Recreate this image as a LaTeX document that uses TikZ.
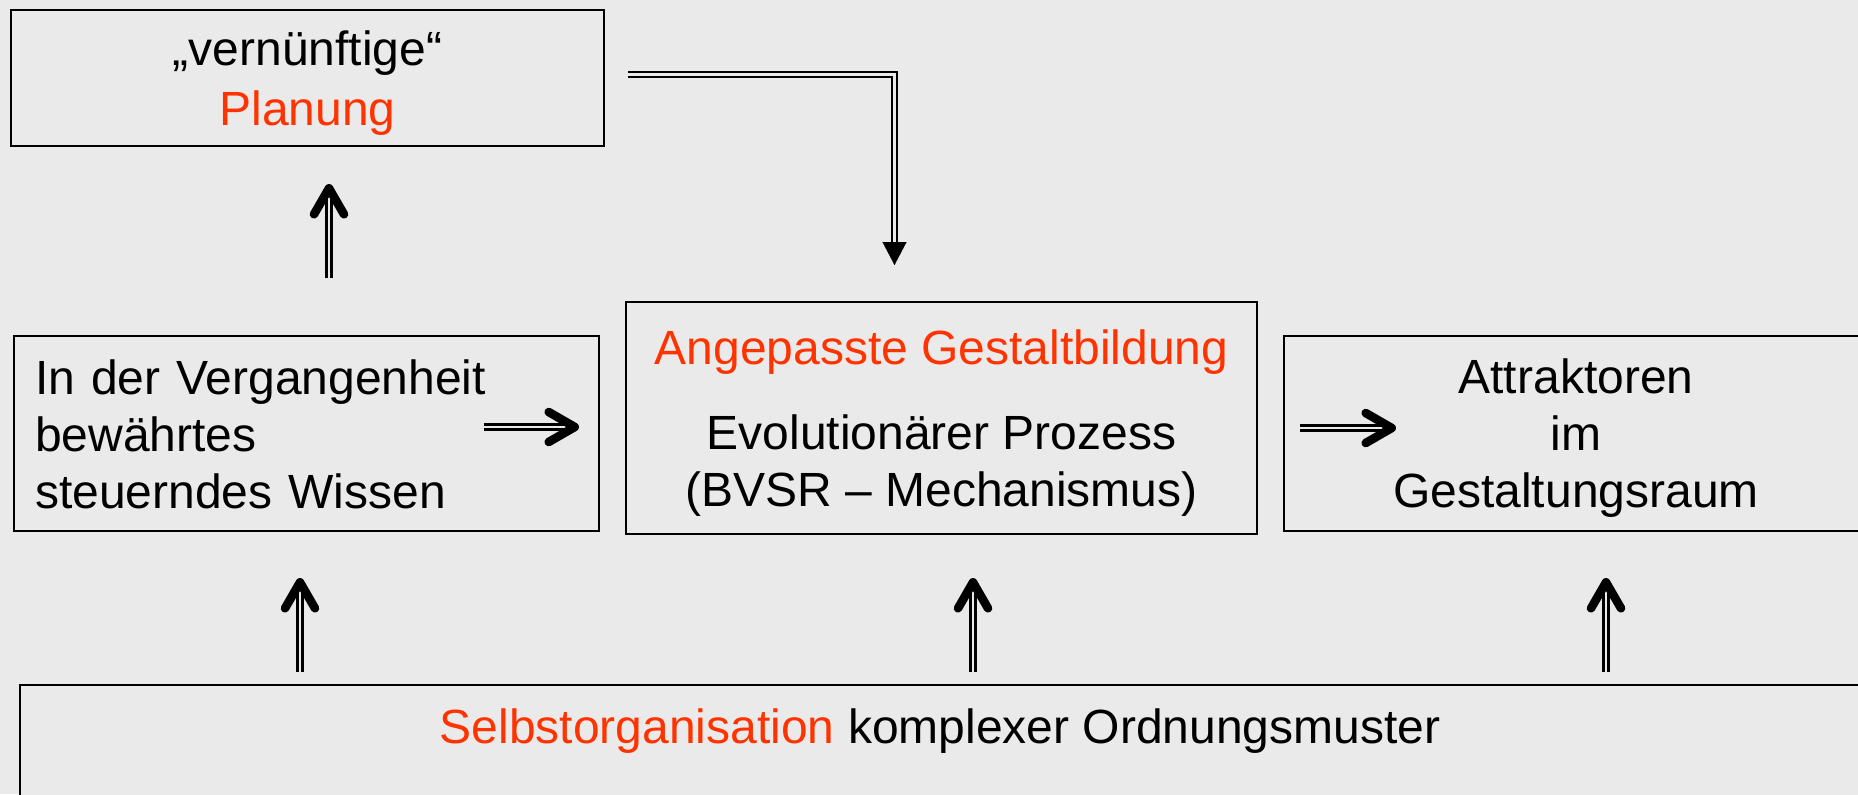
\documentclass[tikz,border=0pt]{standalone}
\usepackage{fontspec}
\setmainfont{Liberation Sans}
\usetikzlibrary{arrows.meta}
\definecolor{bgc}{RGB}{234,234,234}
\definecolor{hot}{RGB}{255,51,0}

\begin{document}
\begin{tikzpicture}[x=0.5pt,y=-0.5pt,font=\fontsize{24}{28.5}\selectfont,
	box/.style={draw=black,line width=1pt,fill=bgc,inner sep=0pt,outer sep=0pt,text depth=0pt},
	shaft/.style={draw=black,double=bgc,double distance=1.3pt,line width=1.25pt,shorten >=5pt},
	barb/.style={draw=bgc,line width=0.1pt,-{Straight Barb[color=black,length=13pt,width=15pt,line width=4.3pt,round]}},
	tri/.style={draw=bgc,line width=0.1pt,-{Triangle[color=black,length=11.5pt,width=12pt]}}]
	\fill [bgc] (0,0) rectangle (1858,794);
	\useasboundingbox (0,0) rectangle (1858,794);
	\node [box,minimum width=296.5pt,minimum height=68pt,align=center] at (307.5,78) (plan) {„vernünftige“\\[1.5pt]\textcolor{hot}{Planung}};
	\node [box,minimum width=292.5pt,minimum height=97.5pt,inner xsep=10.5pt,text width=271.5pt,text depth=56.5pt,align=left] at (306.5,433.5) (past) {In der Vergangenheit\\bewährtes\\steuerndes Wissen};
	\node [box,minimum width=315.5pt,minimum height=116pt,align=center] at (941.5,418) (evo) {\textcolor{hot}{Angepasste Gestaltbildung}\\[14pt]Evolutionärer Prozess\\(BVSR – Mechanismus)};
	\node [box,minimum width=292pt,minimum height=97.5pt,align=center] at (1576,433.5) (attr) {Attraktoren\\im\\Gestaltungsraum};
	\node [box,minimum width=920pt,inner ysep=11.5pt,text height=17.5pt,text depth=40pt,anchor=north] at (940,685) (selforg) {\textcolor{hot}{Selbstorganisation} komplexer Ordnungsmuster};
	\coordinate (up1s) at (329,278);
	\coordinate (up1e) at (329,184);
	\coordinate (up2s) at (300,672);
	\coordinate (up2e) at (300,578);
	\coordinate (up3s) at (973,672);
	\coordinate (up3e) at (973,578);
	\coordinate (up4s) at (1606,672);
	\coordinate (up4e) at (1606,578);
	\coordinate (rt1s) at (484,427);
	\coordinate (rt1e) at (579,427);
	\coordinate (rt2s) at (1300,428);
	\coordinate (rt2e) at (1396,428);
	\coordinate (dns) at (628,74.5);
	\coordinate (dne) at (894.5,265);
	\draw [shaft] (up1s) -- (up1e);
	\draw [barb] (up1s) -- (up1e);
	\draw [shaft] (up2s) -- (up2e);
	\draw [barb] (up2s) -- (up2e);
	\draw [shaft] (up3s) -- (up3e);
	\draw [barb] (up3s) -- (up3e);
	\draw [shaft] (up4s) -- (up4e);
	\draw [barb] (up4s) -- (up4e);
	\draw [shaft] (rt1s) -- (rt1e);
	\draw [barb] (rt1s) -- (rt1e);
	\draw [shaft] (rt2s) -- (rt2e);
	\draw [barb] (rt2s) -- (rt2e);
	\draw [shaft,shorten >=10pt] (dns) -| (dne);
	\draw [tri] (dns) -| (dne);
\end{tikzpicture}
\end{document}
